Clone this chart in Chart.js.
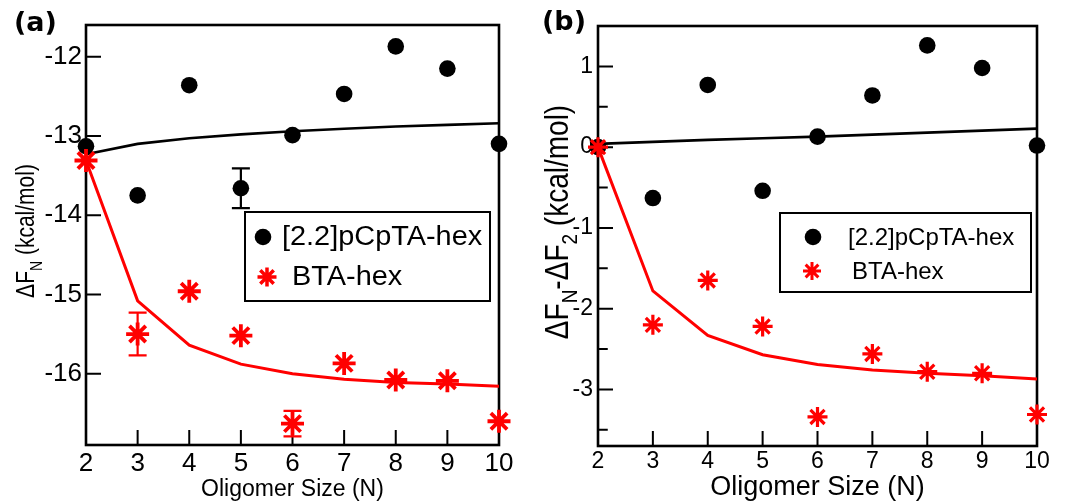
<!DOCTYPE html>
<html>
  <head>
    <meta charset="utf-8">
    <title>Oligomer free energies</title>
    <script src="https://cdn.jsdelivr.net/npm/chart.js@4.4.1/dist/chart.umd.min.js"></script>
    <style>
      body { margin: 0; background: #fff; }
      #wrap { position: relative; width: 1065px; height: 501px; }
      canvas { position: absolute; top: 0; }
    </style>
  </head>
  <body>
    <div id="wrap">
      <canvas id="panel_a" width="530" height="501" style="left:0px"></canvas>
      <canvas id="panel_b" width="535" height="501" style="left:530px"></canvas>
    </div>

    <script type="text/javascript">
      // oligomer sizes (x axis, both panels)
      var sizes = [2, 3, 4, 5, 6, 7, 8, 9, 10];

      // panel (a): absolute free energies, kcal/mol
      var pcpAbs     = [-13.13, -13.75, -12.36, -13.66, -12.99, -12.47, -11.87, -12.15, -13.10];
      var pcpAbsErr  = [0, 0, 0, 0.25, 0, 0, 0, 0, 0];
      var pcpAbsFit  = [-13.23, -13.10, -13.03, -12.98, -12.94, -12.91, -12.88, -12.86, -12.84];
      var btaAbs     = [-13.31, -15.50, -14.96, -15.52, -16.63, -15.87, -16.08, -16.09, -16.60];
      var btaAbsErr  = [0, 0.27, 0, 0, 0.16, 0, 0, 0, 0];
      var btaAbsFit  = [-13.31, -15.08, -15.64, -15.88, -16.00, -16.07, -16.11, -16.13, -16.16];

      // panel (b): relative to the dimer, kcal/mol
      var pcpRel     = [0, -0.63, 0.77, -0.54, 0.13, 0.64, 1.26, 0.98, 0.02];
      var pcpRelFit  = [0.04, 0.065, 0.09, 0.11, 0.13, 0.155, 0.18, 0.205, 0.23];
      var btaRel     = [0, -2.20, -1.65, -2.22, -3.34, -2.56, -2.78, -2.80, -3.31];
      var btaRelFit  = [0, -1.78, -2.33, -2.57, -2.69, -2.76, -2.80, -2.83, -2.87];

      // ticks
      var xTicks      = [2, 3, 4, 5, 6, 7, 8, 9, 10];
      var yTicksA     = [-16, -15, -14, -13, -12];
      var yTicksB     = [-3, -2, -1, 0, 1];
      var yMinorB     = [-3.5, -2.5, -1.5, -0.5, 0.5];

      var seriesNames = ["[2.2]pCpTA-hex", "BTA-hex"];
      var xTitle = "Oligomer Size (N)";
      var yTitleA = [["\u0394F", false], ["N", true], [" (kcal/mol)", false]];
      var yTitleB = [["\u0394F", false], ["N", true], ["-\u0394F", false], ["2", true], [" (kcal/mol)", false]];

      var FONT = "'Liberation Sans', Arial, sans-serif";
      Chart.defaults.font.family = FONT;
      Chart.defaults.color = "#000";

      function pts(ys) {
        return sizes.map(function(x, i) { return {x: x, y: ys[i]}; });
      }

      // rotated axis title with subscripts; stretch widens the glyphs across the line
      function drawTitle(ctx, t) {
        ctx.save();
        var widths = t.parts.map(function(p) {
          ctx.font = (p[1] ? t.subSize : t.size) + "px " + FONT;
          return ctx.measureText(p[0]).width;
        });
        var total = widths.reduce(function(a, b) { return a + b; }, 0);
        ctx.translate(t.baseX, t.cy);
        ctx.rotate(-Math.PI / 2);
        ctx.scale(1, t.stretch);
        ctx.fillStyle = "#000";
        ctx.textBaseline = "alphabetic";
        ctx.textAlign = "left";
        var pos = -total / 2;
        t.parts.forEach(function(p, i) {
          ctx.font = (p[1] ? t.subSize : t.size) + "px " + FONT;
          ctx.fillText(p[0], pos, p[1] ? t.subShift / t.stretch : 0);
          pos += widths[i];
        });
        ctx.restore();
      }

      var decor = {
        id: "decor",
        beforeDatasetsDraw: function(chart, args, o) {
          var ctx = chart.ctx, a = chart.chartArea;
          var xs = chart.scales.x, ys = chart.scales.y;
          ctx.save();
          ctx.strokeStyle = "#000";
          ctx.lineWidth = 2.6;
          ctx.strokeRect(a.left, a.top, a.right - a.left, a.bottom - a.top);
          ctx.lineWidth = 2;
          ctx.beginPath();
          xTicks.forEach(function(v) {
            if (v == xs.min || v == xs.max) return;
            var px = xs.getPixelForValue(v);
            ctx.moveTo(px, a.bottom);
            ctx.lineTo(px, a.bottom - o.tickLen);
          });
          o.yMajor.forEach(function(v) {
            var py = ys.getPixelForValue(v);
            ctx.moveTo(a.left, py);
            ctx.lineTo(a.left + o.tickLen, py);
          });
          (o.yMinor || []).forEach(function(v) {
            var py = ys.getPixelForValue(v);
            ctx.moveTo(a.left, py);
            ctx.lineTo(a.left + o.tickLen * 0.65, py);
          });
          ctx.stroke();
          ctx.restore();
        },
        afterDatasetsDraw: function(chart, args, o) {
          var ctx = chart.ctx;
          var xs = chart.scales.x, ys = chart.scales.y;
          ctx.save();
          // error bars
          (o.errors || []).forEach(function(e) {
            ctx.strokeStyle = e.color;
            ctx.lineWidth = 2.2;
            ctx.beginPath();
            e.values.forEach(function(v, i) {
              if (!e.err[i]) return;
              var px = xs.getPixelForValue(sizes[i]);
              var top = ys.getPixelForValue(v + e.err[i]);
              var bot = ys.getPixelForValue(v - e.err[i]);
              ctx.moveTo(px, top); ctx.lineTo(px, bot);
              ctx.moveTo(px - 9, top); ctx.lineTo(px + 9, top);
              ctx.moveTo(px - 9, bot); ctx.lineTo(px + 9, bot);
            });
            ctx.stroke();
          });
          // legend box
          var L = o.legend;
          ctx.fillStyle = "#fff";
          ctx.fillRect(L.x0, L.y0, L.x1 - L.x0, L.y1 - L.y0);
          ctx.strokeStyle = "#000";
          ctx.lineWidth = 2;
          ctx.strokeRect(L.x0, L.y0, L.x1 - L.x0, L.y1 - L.y0);
          ctx.fillStyle = "#000";
          ctx.beginPath();
          ctx.arc(L.mx[0], L.my[0], L.circleR, 0, Math.PI * 2);
          ctx.fill();
          ctx.strokeStyle = "#ff0000";
          ctx.lineWidth = L.starW;
          Chart.helpers.drawPoint(ctx, {pointStyle: "star", radius: L.starR, rotation: 0, borderWidth: L.starW}, L.mx[1], L.my[1]);
          ctx.fillStyle = "#000";
          ctx.font = L.font + "px " + FONT;
          ctx.textBaseline = "middle";
          ctx.textAlign = "left";
          for (var i = 0; i < 2; i++) {
            ctx.save();
            ctx.translate(L.tx[i], L.my[i] + 1);
            ctx.scale(L.wide, 1);
            ctx.fillText(seriesNames[i], 0, 0);
            ctx.restore();
          }
          ctx.restore();
        },
        afterDraw: function(chart, args, o) {
          var ctx = chart.ctx;
          drawTitle(ctx, o.title);
          ctx.save();
          ctx.font = "bold 27px 'DejaVu Sans', sans-serif";
          ctx.fillStyle = "#000";
          ctx.textBaseline = "middle";
          ctx.fillText(o.tag, o.tagX, o.tagY);
          ctx.restore();
        }
      };

      function makePanel(id, cfg) {
        return new Chart(document.getElementById(id), {
          type: "scatter",
          data: {
            datasets: [
              {label: seriesNames[1], data: pts(cfg.bta), pointStyle: "star", pointRadius: cfg.starR,
               borderColor: "#ff0000", borderWidth: cfg.starW, showLine: false, clip: false},
              {label: "fit", data: pts(cfg.btaFit), showLine: true, pointRadius: 0,
               borderColor: "#ff0000", borderWidth: 3, clip: false},
              {label: seriesNames[0], data: pts(cfg.pcp), pointStyle: "circle", pointRadius: cfg.circleR,
               backgroundColor: "#000", borderWidth: 0, showLine: false, clip: false},
              {label: "fit", data: pts(cfg.pcpFit), showLine: true, pointRadius: 0,
               borderColor: "#000", borderWidth: 2.6, clip: false}
            ]
          },
          options: {
            responsive: false,
            animation: false,
            events: [],
            layout: {padding: {top: cfg.padTop, right: cfg.padRight, left: 0, bottom: 0}},
            plugins: {
              legend: {display: false},
              tooltip: {enabled: false},
              decor: cfg.decor
            },
            scales: {
              x: {
                type: "linear", min: 2, max: 10,
                afterBuildTicks: function(s) { s.ticks = xTicks.map(function(v) { return {value: v}; }); },
                afterFit: function(s) { s.height = cfg.xHeight; },
                grid: {display: false, drawTicks: false},
                border: {display: false},
                ticks: {font: {size: cfg.tickSize}, padding: cfg.xPad, maxRotation: 0,
                        callback: function(v) { return String(v); }},
                title: {display: true, text: xTitle, font: {size: cfg.xTitleSize, lineHeight: 1},
                        padding: {top: 0, bottom: 0}}
              },
              y: {
                type: "linear", min: cfg.yMin, max: cfg.yMax,
                afterBuildTicks: function(s) { s.ticks = cfg.yTicks.map(function(v) { return {value: v}; }); },
                afterFit: function(s) { s.width = cfg.yWidth; },
                grid: {display: false, drawTicks: false},
                border: {display: false},
                ticks: {font: {size: cfg.tickSize}, padding: cfg.yPad,
                        callback: function(v) { return String(v); }}
              }
            }
          },
          plugins: [decor]
        });
      }

      makePanel("panel_a", {
        pcp: pcpAbs, pcpFit: pcpAbsFit, bta: btaAbs, btaFit: btaAbsFit,
        yMin: -16.9, yMax: -11.6, yTicks: yTicksA,
        padTop: 25, padRight: 31, yWidth: 86, xHeight: 56,
        tickSize: 26, xPad: 3, yPad: 4, xTitleSize: 23,
        starR: 11.5, starW: 3.8, circleR: 8.3,
        decor: {
          tickLen: 15, yMajor: yTicksA,
          errors: [{values: pcpAbs, err: pcpAbsErr, color: "#000"},
                   {values: btaAbs, err: btaAbsErr, color: "#ff0000"}],
          legend: {x0: 245, y0: 212, x1: 490, y1: 301, mx: [263, 267], my: [237, 277],
                   tx: [282, 292], font: 27, wide: 1.07, circleR: 8.3, starR: 9.5, starW: 3.5},
          title: {parts: yTitleA, baseX: 33.5, cy: 231, size: 21, subSize: 14, subShift: 8.5, stretch: 1.2},
          tag: "(a)", tagX: 14, tagY: 24
        }
      });

      makePanel("panel_b", {
        pcp: pcpRel, pcpFit: pcpRelFit, bta: btaRel, btaFit: btaRelFit,
        yMin: -3.7, yMax: 1.5, yTicks: yTicksB,
        padTop: 26, padRight: 28, yWidth: 68, xHeight: 55,
        tickSize: 23, xPad: 2, yPad: 5, xTitleSize: 27,
        starR: 10, starW: 3.2, circleR: 8.3,
        decor: {
          tickLen: 15, yMajor: yTicksB, yMinor: yMinorB,
          errors: [],
          legend: {x0: 250, y0: 213, x1: 501, y1: 292, mx: [283, 282], my: [237, 271],
                   tx: [318, 322], font: 24, wide: 1, circleR: 8.3, starR: 9, starW: 3},
          title: {parts: yTitleB, baseX: 38, cy: 222, size: 28, subSize: 19, subShift: 9, stretch: 1.2},
          tag: "(b)", tagX: 12, tagY: 23
        }
      });
    </script>
  </body>
</html>
